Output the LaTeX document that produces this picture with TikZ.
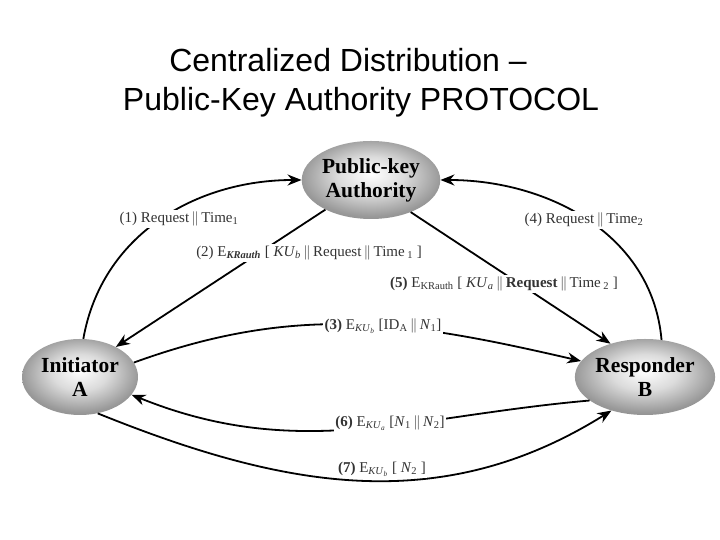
\documentclass[tikz,border=0pt]{standalone}
\usepackage{fontspec}
\setmainfont{Liberation Serif}
\newfontfamily\titlefont{Liberation Sans}
\usetikzlibrary{arrows.meta,shapes.geometric}
\pgfdeclareradialshading{ellshade}{\pgfpoint{0bp}{4bp}}{color(0bp)=(white); color(12bp)=(black!14); color(25bp)=(black!40); color(38bp)=(black!55); color(50bp)=(black!62)}
\newcommand{\orbar}{\,$\|$\,}
\begin{document}
\begin{tikzpicture}[x=1pt,y=1pt,
  ell/.style={ellipse, shading=ellshade, inner sep=0pt, align=center,
    font=\fontsize{21.5}{24}\selectfont\bfseries},
  conn/.style={line width=1.8pt, -{Stealth[length=14pt,width=11pt]}},
  lbl/.style={fill=white, inner sep=1.5pt, text=black!80,
    font=\fontsize{15}{17}\selectfont},
  ttl/.style={anchor=base, font=\titlefont\fontsize{32}{38}\selectfont}]
\useasboundingbox[fill=white] (0,0) rectangle (720,540);

\node[ttl] (t1) at (348,468) {Centralized Distribution –};
\node[ttl] (t2) at (361,429) {Public-Key Authority PROTOCOL};

\node[ell, minimum width=124pt, minimum height=78pt] (P) at (371,360) {Public-key\\Authority};
\node[ell, minimum width=116pt, minimum height=76pt] (A) at (80,163) {Initiator\\A};
\node[ell, minimum width=114pt, minimum height=76pt] (B) at (645,163) {Responder\\B};

\draw[conn] (A.85) to[out=80,in=180] (P.180);
\draw[conn] (P.213) -- (A.40);
\draw[conn] (A.15) to[out=20,in=167] (B.166);
\draw[conn] (B.66) to[out=95,in=0] (P.0);
\draw[conn] (P.321) -- (B.136);
\draw[conn] (B.203) to[out=185,in=-22] (A.341);
\draw[conn] (A.296) to[out=-22,in=212] (B.225);

\node[lbl] (l1) at (179,321) {(1)\ Request\orbar Time\textsubscript{1}};
\node[lbl] (l2) at (309,287) {(2) E\textsubscript{\bfseries\itshape KRauth} [ \textit{KU}\textsubscript{\textit{b}}\orbar Request\orbar Time\,\textsubscript{1} ]};
\node[lbl] (l3) at (383,214) {\textbf{(3)} E\textsubscript{\textit{KU}\textsubscript{\textit{b}}} [ID\textsubscript{A}\orbar\textit{N}\textsubscript{1}]};
\node[lbl] (l4) at (584,320) {(4)\ Request\orbar Time\textsubscript{2}};
\node[lbl] (l5) at (504,256) {\textbf{(5)} E\textsubscript{KRauth} [ \textit{KU}\textsubscript{\textit{a}}\orbar\textbf{Request}\orbar Time\,\textsubscript{2} ]};
\node[lbl] (l6) at (390,117) {\textbf{(6)} E\textsubscript{\textit{KU}\textsubscript{\textit{a}}} [\textit{N}\textsubscript{1}\orbar\textit{N}\textsubscript{2}]};
\node[lbl] (l7) at (382,71) {\textbf{(7)} E\textsubscript{\textit{KU}\textsubscript{\textit{b}}} [ \textit{N}\textsubscript{2} ]};
\end{tikzpicture}
\end{document}
